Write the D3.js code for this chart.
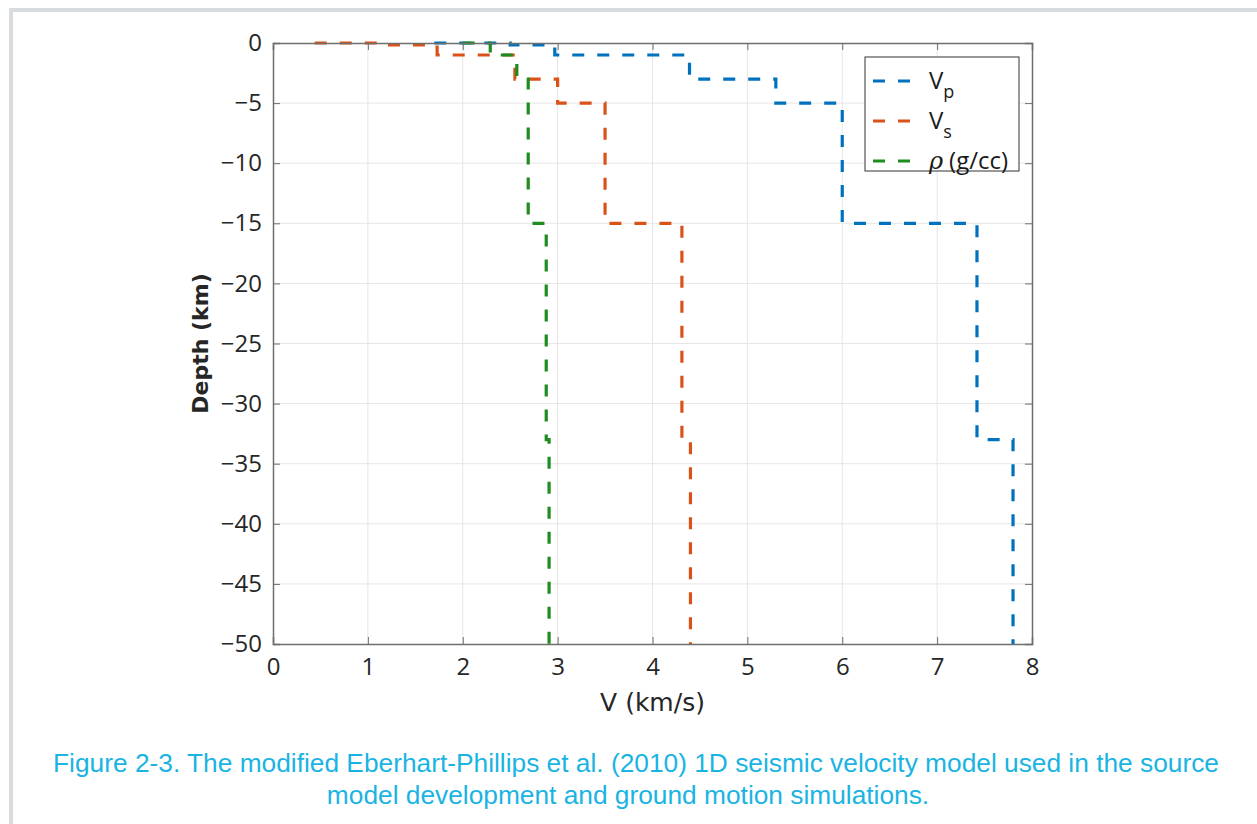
<!DOCTYPE html>
<html>
<head>
<meta charset="utf-8">
<script src="https://cdn.jsdelivr.net/npm/d3@7"></script>
<style>
  body { margin: 0; background: #fff; }
  svg { display: block; }
</style>
</head>
<body>
<div id="chart"></div>
<script>
const width = 1257;
const height = 824;

// step profiles: velocity (km/s or g/cc) and depth (km) vertices
const vpV     = [1.70, 2.50, 2.50, 2.97, 2.97, 4.39, 4.39, 5.30, 5.30, 6.00, 6.00, 7.42, 7.42, 7.80, 7.80];
const vpDepth = [0, 0, -0.15, -0.15, -1, -1, -3, -3, -5, -5, -15, -15, -33, -33, -50];

const vsV     = [0.44, 1.20, 1.20, 1.73, 1.73, 2.55, 2.55, 3.00, 3.00, 3.50, 3.50, 4.31, 4.31, 4.40, 4.40];
const vsDepth = [0, 0, -0.15, -0.15, -1, -1, -3, -3, -5, -5, -15, -15, -33, -33, -50];

const rhoV     = [2.00, 2.29, 2.29, 2.57, 2.57, 2.69, 2.69, 2.88, 2.88, 2.91, 2.91];
const rhoDepth = [0, 0, -1, -1, -3, -3, -15, -15, -33, -33, -50];

const xTicks = [0, 1, 2, 3, 4, 5, 6, 7, 8];
const yTicks = [0, -5, -10, -15, -20, -25, -30, -35, -40, -45, -50];

const series = [
  { name: "Vp", sub: "p", v: vpV, d: vpDepth, color: "#0072BD" },
  { name: "Vs", sub: "s", v: vsV, d: vsDepth, color: "#D95319" },
  { name: "rho", sub: null, v: rhoV, d: rhoDepth, color: "#1E8C1E" }
];

const svg = d3.select("#chart").append("svg")
  .attr("width", width)
  .attr("height", height);

// page frame
svg.append("rect")
  .attr("x", 11).attr("y", 10)
  .attr("width", 1300).attr("height", 900)
  .attr("fill", "none")
  .attr("stroke", "#d9dcdf")
  .attr("stroke-width", 4);

const x = d3.scaleLinear().domain([0, 8]).range([273, 1032]);
const y = d3.scaleLinear().domain([0, -50]).range([43, 644]);

const tickFont = "'Open Sans', sans-serif";
const labelFont = "'DejaVu Sans', sans-serif";

// grid
const grid = svg.append("g");
grid.selectAll(".gx").data(xTicks.slice(1, -1)).enter().append("line")
  .attr("x1", d => x(d)).attr("x2", d => x(d))
  .attr("y1", y(0)).attr("y2", y(-50))
  .attr("stroke", "#e6e6e6").attr("stroke-width", 1);
grid.selectAll(".gy").data(yTicks.slice(1, -1)).enter().append("line")
  .attr("x1", x(0)).attr("x2", x(8))
  .attr("y1", d => y(d)).attr("y2", d => y(d))
  .attr("stroke", "#e6e6e6").attr("stroke-width", 1);

// lines
const line = d3.line().x(p => x(p[0])).y(p => y(p[1]));
svg.append("g").selectAll("path").data(series).enter().append("path")
  .attr("d", s => line(s.v.map((v, i) => [v, s.d[i]])))
  .attr("fill", "none")
  .attr("stroke", s => s.color)
  .attr("stroke-width", 3.2)
  .attr("stroke-dasharray", "12,13");

// axes (ticks inward, mirrored)
const minus = d => (d < 0 ? "\u2212" + Math.abs(d) : String(d));
const axisColor = "#6e6e6e";

const xAxis = svg.append("g").attr("transform", `translate(0,${y(-50)})`)
  .call(d3.axisBottom(x).tickValues(xTicks).tickSize(-7).tickPadding(14).tickFormat(minus));
const xTop = svg.append("g").attr("transform", `translate(0,${y(0)})`)
  .call(d3.axisTop(x).tickValues(xTicks).tickSize(-7).tickFormat(""));
const yAxis = svg.append("g").attr("transform", `translate(${x(0)},0)`)
  .call(d3.axisLeft(y).tickValues(yTicks).tickSize(-7).tickPadding(11).tickFormat(minus));
const yRight = svg.append("g").attr("transform", `translate(${x(8)},0)`)
  .call(d3.axisRight(y).tickValues(yTicks).tickSize(-7).tickFormat(""));

[xAxis, xTop, yAxis, yRight].forEach(g => {
  g.select(".domain").attr("stroke", axisColor).attr("stroke-width", 1.5);
  g.selectAll(".tick line").attr("stroke", axisColor).attr("stroke-width", 1);
  g.selectAll("text").attr("fill", "#262626").style("font-family", tickFont).style("font-size", "24px");
});
xAxis.selectAll("text").attr("dy", "0.71em");

// axis labels
svg.append("text")
  .attr("x", x(4)).attr("y", 711)
  .attr("text-anchor", "middle")
  .style("font-family", labelFont).style("font-size", "25px")
  .attr("fill", "#262626")
  .text("V (km/s)");

svg.append("text")
  .attr("transform", `translate(208,${y(-25)}) rotate(-90)`)
  .attr("text-anchor", "middle")
  .style("font-family", labelFont).style("font-size", "22px")
  .style("font-weight", "bold")
  .attr("fill", "#262626")
  .text("Depth (km)");

// legend
const lg = svg.append("g").attr("transform", "translate(865,57)");
lg.append("rect")
  .attr("width", 154).attr("height", 114)
  .attr("fill", "#fff").attr("stroke", "#333").attr("stroke-width", 1);
series.forEach((s, i) => {
  const yy = 24 + i * 40;
  lg.append("line")
    .attr("x1", 8).attr("x2", 50).attr("y1", yy).attr("y2", yy)
    .attr("stroke", s.color).attr("stroke-width", 3.2)
    .attr("stroke-dasharray", "12,13");
  const t = lg.append("text")
    .attr("x", 64).attr("y", yy + 8)
    .style("font-family", tickFont).style("font-size", "24px")
    .attr("fill", "#1a1a1a");
  if (s.sub) {
    t.append("tspan").text("V");
    t.append("tspan").attr("dy", 9).style("font-size", "18px").text(s.sub);
  } else {
    t.append("tspan").style("font-style", "italic").style("font-family", "'DejaVu Serif', serif").text("\u03C1");
    t.append("tspan").attr("dx", 6).text("(g/cc)");
  }
});

// caption
const cap = svg.append("text")
  .attr("text-anchor", "middle")
  .style("font-family", "'Liberation Sans', Arial, sans-serif")
  .style("font-size", "26.3px")
  .attr("fill", "#1AB4E3");
cap.append("tspan").attr("x", 636).attr("y", 772)
  .text("Figure 2-3. The modified Eberhart-Phillips et al. (2010) 1D seismic velocity model used in the source");
cap.append("tspan").attr("x", 628).attr("y", 804)
  .text("model development and ground motion simulations.");
</script>
</body>
</html>
